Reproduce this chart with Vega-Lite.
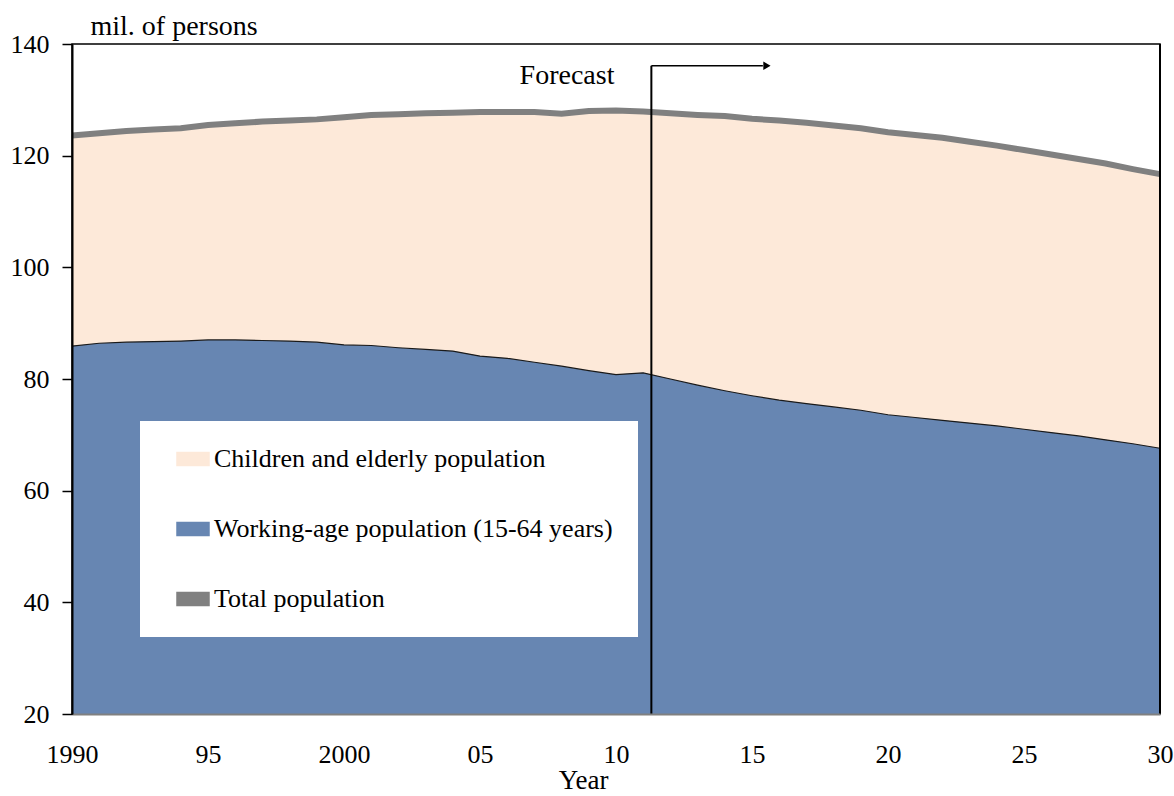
{
  "$schema": "https://vega.github.io/schema/vega-lite/v6.json",
  "width": 1088,
  "height": 670,
  "autosize": {"type": "none"},
  "padding": {"left": 72, "top": 44, "right": 14, "bottom": 82},
  "background": "white",
  "config": {"font": "Liberation Serif", "view": {"stroke": "black", "strokeWidth": 1.5}},
  "datasets": {
    "pop": [
      {"year": 1990, "total": 123.6, "working": 85.9},
      {"year": 1991, "total": 124.0, "working": 86.4},
      {"year": 1992, "total": 124.4, "working": 86.6},
      {"year": 1993, "total": 124.7, "working": 86.7},
      {"year": 1994, "total": 124.9, "working": 86.8},
      {"year": 1995, "total": 125.5, "working": 87.0},
      {"year": 1996, "total": 125.8, "working": 87.0},
      {"year": 1997, "total": 126.1, "working": 86.9},
      {"year": 1998, "total": 126.3, "working": 86.8},
      {"year": 1999, "total": 126.5, "working": 86.6},
      {"year": 2000, "total": 126.9, "working": 86.1},
      {"year": 2001, "total": 127.3, "working": 86.0},
      {"year": 2002, "total": 127.4, "working": 85.6},
      {"year": 2003, "total": 127.6, "working": 85.3},
      {"year": 2004, "total": 127.7, "working": 85.0},
      {"year": 2005, "total": 127.8, "working": 84.1},
      {"year": 2006, "total": 127.8, "working": 83.7},
      {"year": 2007, "total": 127.8, "working": 83.0},
      {"year": 2008, "total": 127.5, "working": 82.3},
      {"year": 2009, "total": 128.0, "working": 81.5},
      {"year": 2010, "total": 128.1, "working": 80.8},
      {"year": 2011, "total": 127.9, "working": 81.1},
      {"year": 2012, "total": 127.6, "working": 80.0},
      {"year": 2013, "total": 127.3, "working": 78.9},
      {"year": 2014, "total": 127.1, "working": 77.9},
      {"year": 2015, "total": 126.6, "working": 77.0},
      {"year": 2016, "total": 126.3, "working": 76.2},
      {"year": 2017, "total": 125.9, "working": 75.6},
      {"year": 2018, "total": 125.4, "working": 75.0},
      {"year": 2019, "total": 124.9, "working": 74.4},
      {"year": 2020, "total": 124.2, "working": 73.6},
      {"year": 2021, "total": 123.7, "working": 73.1},
      {"year": 2022, "total": 123.2, "working": 72.6},
      {"year": 2023, "total": 122.5, "working": 72.1},
      {"year": 2024, "total": 121.8, "working": 71.6},
      {"year": 2025, "total": 121.0, "working": 71.0},
      {"year": 2026, "total": 120.2, "working": 70.4},
      {"year": 2027, "total": 119.4, "working": 69.8},
      {"year": 2028, "total": 118.6, "working": 69.1},
      {"year": 2029, "total": 117.6, "working": 68.4},
      {"year": 2030, "total": 116.7, "working": 67.6}
    ]
  },
  "layer": [
    {
      "data": {"name": "pop"},
      "mark": {"type": "area", "opacity": 1},
      "encoding": {
        "x": {
          "field": "year", "type": "quantitative",
          "scale": {"domain": [1990, 2030], "nice": false, "zero": false},
          "axis": {
            "values": [1990, 1995, 2000, 2005, 2010, 2015, 2020, 2025, 2030],
            "labelExpr": "(datum.value % 100 === 0 || datum.value === 1990) ? '' + datum.value : substring('' + datum.value, 2)",
            "grid": false, "ticks": false, "tickSize": 0,
            "domainColor": "#808080", "domainWidth": 2,
            "labelFontSize": 26, "labelColor": "black", "labelFont": "Liberation Serif",
            "labelPadding": 40, "labelBaseline": "middle", "labelFlush": false, "labelOverlap": false,
            "title": "Year", "titleFontSize": 27, "titleFontWeight": "normal", "titleColor": "black",
            "titleFont": "Liberation Serif",
            "titleX": 511, "titleY": 74, "titleBaseline": "alphabetic", "titleAlign": "center",
            "zindex": 1
          }
        },
        "y": {
          "field": "total", "type": "quantitative",
          "scale": {"domain": [20, 140], "nice": false, "zero": false},
          "axis": {
            "values": [20, 40, 60, 80, 100, 120, 140],
            "grid": false, "tickSize": 10, "tickColor": "black", "tickWidth": 1.5,
            "domainColor": "black", "domainWidth": 2,
            "labelFontSize": 26, "labelPadding": 13, "labelColor": "black", "labelFont": "Liberation Serif",
            "title": "mil. of persons", "titleAngle": 0, "titleAlign": "left", "titleBaseline": "alphabetic",
            "titleX": 18, "titleY": -10, "titleFontSize": 28, "titleFontWeight": "normal",
            "titleColor": "black", "titleFont": "Liberation Serif",
            "zindex": 1
          }
        },
        "y2": {"datum": 20},
        "color": {
          "datum": "Children and elderly population",
          "type": "nominal",
          "scale": {
            "domain": ["Children and elderly population", "Working-age population (15-64 years)", "Total population"],
            "range": ["#FDE9D9", "#6786B2", "#808080"]
          },
          "legend": {
            "orient": "none", "legendX": 68, "legendY": 377, "title": null,
            "fillColor": "white", "padding": 25, "rowPadding": 44,
            "labelFont": "Liberation Serif", "labelFontSize": 26, "labelColor": "black", "labelLimit": 700,
            "labelOffset": 23, "symbolSize": 400, "symbolStrokeWidth": 1.5,
            "symbolType": "M-0.1,-0.65H3.1V0.65H-0.1Z"
          }
        }
      }
    },
    {
      "data": {"name": "pop"},
      "mark": {"type": "area", "opacity": 1},
      "encoding": {
        "x": {"field": "year", "type": "quantitative"},
        "y": {"field": "working", "type": "quantitative"},
        "y2": {"datum": 20},
        "color": {"datum": "Working-age population (15-64 years)", "type": "nominal", "legend": null}
      }
    },
    {
      "data": {"name": "pop"},
      "mark": {"type": "line", "color": "#1a1a1a", "strokeWidth": 1.2},
      "encoding": {
        "x": {"field": "year", "type": "quantitative"},
        "y": {"field": "working", "type": "quantitative"}
      }
    },
    {
      "data": {"name": "pop"},
      "mark": {"type": "line", "strokeWidth": 6},
      "encoding": {
        "x": {"field": "year", "type": "quantitative"},
        "y": {"field": "total", "type": "quantitative"},
        "color": {"datum": "Total population", "type": "nominal", "legend": null}
      }
    },
    {
      "data": {"values": [{"x": 2011.3, "y": 136.1, "y2": 20}]},
      "mark": {"type": "rule", "color": "black", "strokeWidth": 2},
      "encoding": {
        "x": {"field": "x", "type": "quantitative"},
        "y": {"field": "y", "type": "quantitative"},
        "y2": {"field": "y2"}
      }
    },
    {
      "data": {"values": [{"x": 2011.3, "x2": 2015.4, "y": 136.1}]},
      "mark": {"type": "rule", "color": "black", "strokeWidth": 1.5},
      "encoding": {
        "x": {"field": "x", "type": "quantitative"},
        "x2": {"field": "x2"},
        "y": {"field": "y", "type": "quantitative"}
      }
    },
    {
      "data": {"values": [{"x": 2015.55, "y": 136.1}]},
      "mark": {"type": "point", "shape": "triangle-right", "filled": true, "color": "black", "size": 70, "opacity": 1},
      "encoding": {
        "x": {"field": "x", "type": "quantitative"},
        "y": {"field": "y", "type": "quantitative"}
      }
    },
    {
      "data": {"values": [{"x": 2008.2, "y": 134.3, "label": "Forecast"}]},
      "mark": {"type": "text", "font": "Liberation Serif", "fontSize": 28, "color": "black", "align": "center", "baseline": "middle"},
      "encoding": {
        "x": {"field": "x", "type": "quantitative"},
        "y": {"field": "y", "type": "quantitative"},
        "text": {"field": "label"}
      }
    },
    {
      "data": {"values": [{"x": 2030}]},
      "mark": {"type": "rule", "color": "black", "strokeWidth": 2},
      "encoding": {
        "x": {"field": "x", "type": "quantitative"}
      }
    }
  ]
}
